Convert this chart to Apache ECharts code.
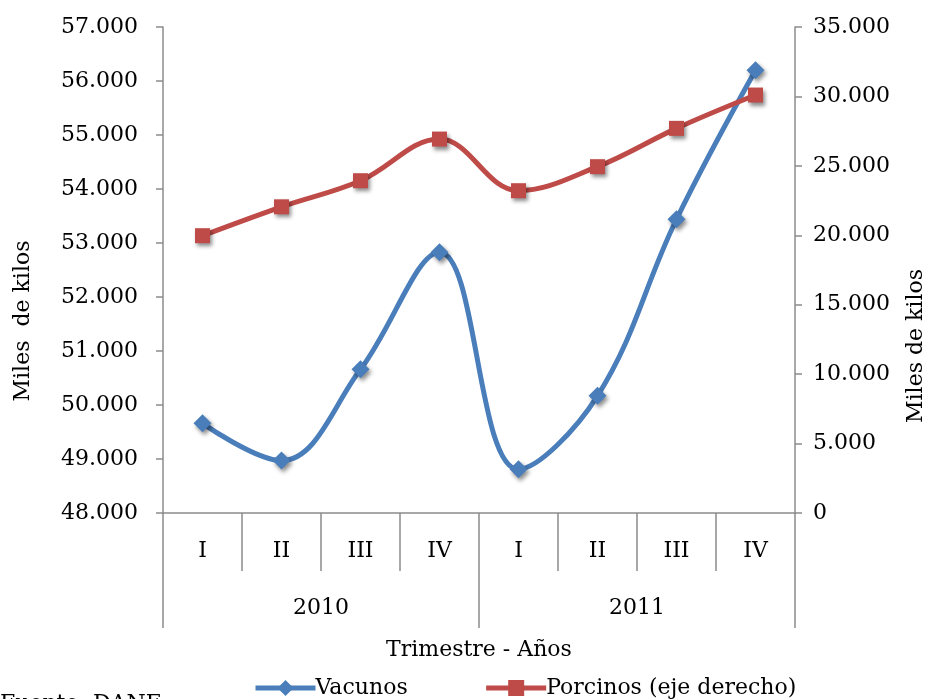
<!DOCTYPE html>
<html>
<head>
<meta charset="utf-8">
<script src="https://cdn.jsdelivr.net/npm/echarts@6/dist/echarts.min.js"></script>
<style>
  html, body { margin: 0; padding: 0; background: #fff; }
  #chart { width: 929px; height: 699px; }
</style>
</head>
<body>
<div id="chart"></div>
<script>
// trimestres y años
var quarters = ['I', 'II', 'III', 'IV', 'I', 'II', 'III', 'IV'];
var years = ['2010', '2011'];
// miles de kilos
var vacunos = [49660, 48970, 50660, 52830, 48810, 50170, 53440, 56200];
var porcinos = [19970, 22050, 23930, 26930, 23210, 24940, 27700, 30100];

var FONT = 'DejaVu Serif';
var FS = 22;
var AXIS_GRAY = '#8c8c8c';

function fmt(v) {
    if (v === 0) return '0';
    return (v / 1000).toFixed(3);
}

var chart = echarts.init(document.getElementById('chart'));
var option = {
    animation: false,
    textStyle: { fontFamily: FONT, color: '#000' },
    grid: { left: 163, right: 134, top: 27, bottom: 186, containLabel: false },
    legend: {
        left: 248,
        top: 672,
        itemWidth: 60,
        itemHeight: 20,
        itemGap: 76,
        lineStyle: { width: 5 },
        textStyle: { fontFamily: FONT, fontSize: FS, color: '#000', padding: [0, 0, 0, -5] },
        data: ['Vacunos', 'Porcinos (eje derecho)']
    },
    graphic: [
        {
            type: 'text',
            left: 0,
            top: 693,
            style: { text: 'Fuente: DANE', fontFamily: FONT, fontSize: FS, fill: '#000' }
        },
        {
            type: 'text',
            x: 23,
            y: 321,
            rotation: Math.PI / 2,
            style: { text: 'Miles  de kilos', fontFamily: FONT, fontSize: FS, fill: '#000', align: 'center', verticalAlign: 'middle' }
        },
        {
            type: 'text',
            x: 916,
            y: 346,
            rotation: Math.PI / 2,
            style: { text: 'Miles de kilos', fontFamily: FONT, fontSize: FS, fill: '#000', align: 'center', verticalAlign: 'middle' }
        }
    ],
    xAxis: [
        {
            type: 'category',
            data: quarters,
            position: 'bottom',
            boundaryGap: true,
            axisLine: { show: true, lineStyle: { color: AXIS_GRAY, width: 1.5 } },
            axisTick: { show: true, interval: 0, length: 58, lineStyle: { color: AXIS_GRAY, width: 1.5 } },
            axisLabel: { interval: 0, margin: 27, fontFamily: FONT, fontSize: FS, color: '#000' },
            splitLine: { show: false }
        },
        {
            type: 'category',
            data: years,
            position: 'bottom',
            boundaryGap: true,
            axisLine: { show: false },
            axisTick: { show: true, interval: 0, length: 115, lineStyle: { color: AXIS_GRAY, width: 1.5 } },
            axisLabel: { interval: 0, margin: 84, fontFamily: FONT, fontSize: FS, color: '#000' },
            splitLine: { show: false },
            name: 'Trimestre - Años',
            nameLocation: 'middle',
            nameGap: 126,
            nameTextStyle: { fontFamily: FONT, fontSize: FS, color: '#000' }
        }
    ],
    yAxis: [
        {
            type: 'value',
            min: 48000,
            max: 57000,
            interval: 1000,
            position: 'left',
            axisLine: { show: true, lineStyle: { color: AXIS_GRAY, width: 1.5 } },
            axisTick: { show: true, inside: false, length: 7, lineStyle: { color: AXIS_GRAY, width: 1.5 } },
            axisLabel: { formatter: fmt, margin: 25, fontFamily: FONT, fontSize: FS, color: '#000' },
            splitLine: { show: false }
        },
        {
            type: 'value',
            min: 0,
            max: 35000,
            interval: 5000,
            position: 'right',
            axisLine: { show: true, lineStyle: { color: AXIS_GRAY, width: 1.5 } },
            axisTick: { show: true, inside: false, length: 7, lineStyle: { color: AXIS_GRAY, width: 1.5 } },
            axisLabel: { formatter: fmt, margin: 18, fontFamily: FONT, fontSize: FS, color: '#000' },
            splitLine: { show: false }
        }
    ],
    series: [
        {
            name: 'Vacunos',
            type: 'line',
            xAxisIndex: 0,
            yAxisIndex: 0,
            smooth: 0.38,
            data: vacunos,
            symbol: 'diamond',
            symbolSize: 18,
            lineStyle: { color: '#4a7ebb', width: 5 },
            itemStyle: {
                color: '#4a7ebb',
                shadowBlur: 4,
                shadowColor: 'rgba(0,0,0,0.45)',
                shadowOffsetX: 2,
                shadowOffsetY: 3
            }
        },
        {
            name: 'Porcinos (eje derecho)',
            type: 'line',
            xAxisIndex: 0,
            yAxisIndex: 1,
            smooth: 0.38,
            data: porcinos,
            symbol: 'rect',
            symbolSize: 15,
            lineStyle: { color: '#be4b48', width: 5 },
            itemStyle: {
                color: '#be4b48',
                shadowBlur: 4,
                shadowColor: 'rgba(0,0,0,0.45)',
                shadowOffsetX: 2,
                shadowOffsetY: 3
            }
        }
    ]
};
chart.setOption(option);
</script>
</body>
</html>
